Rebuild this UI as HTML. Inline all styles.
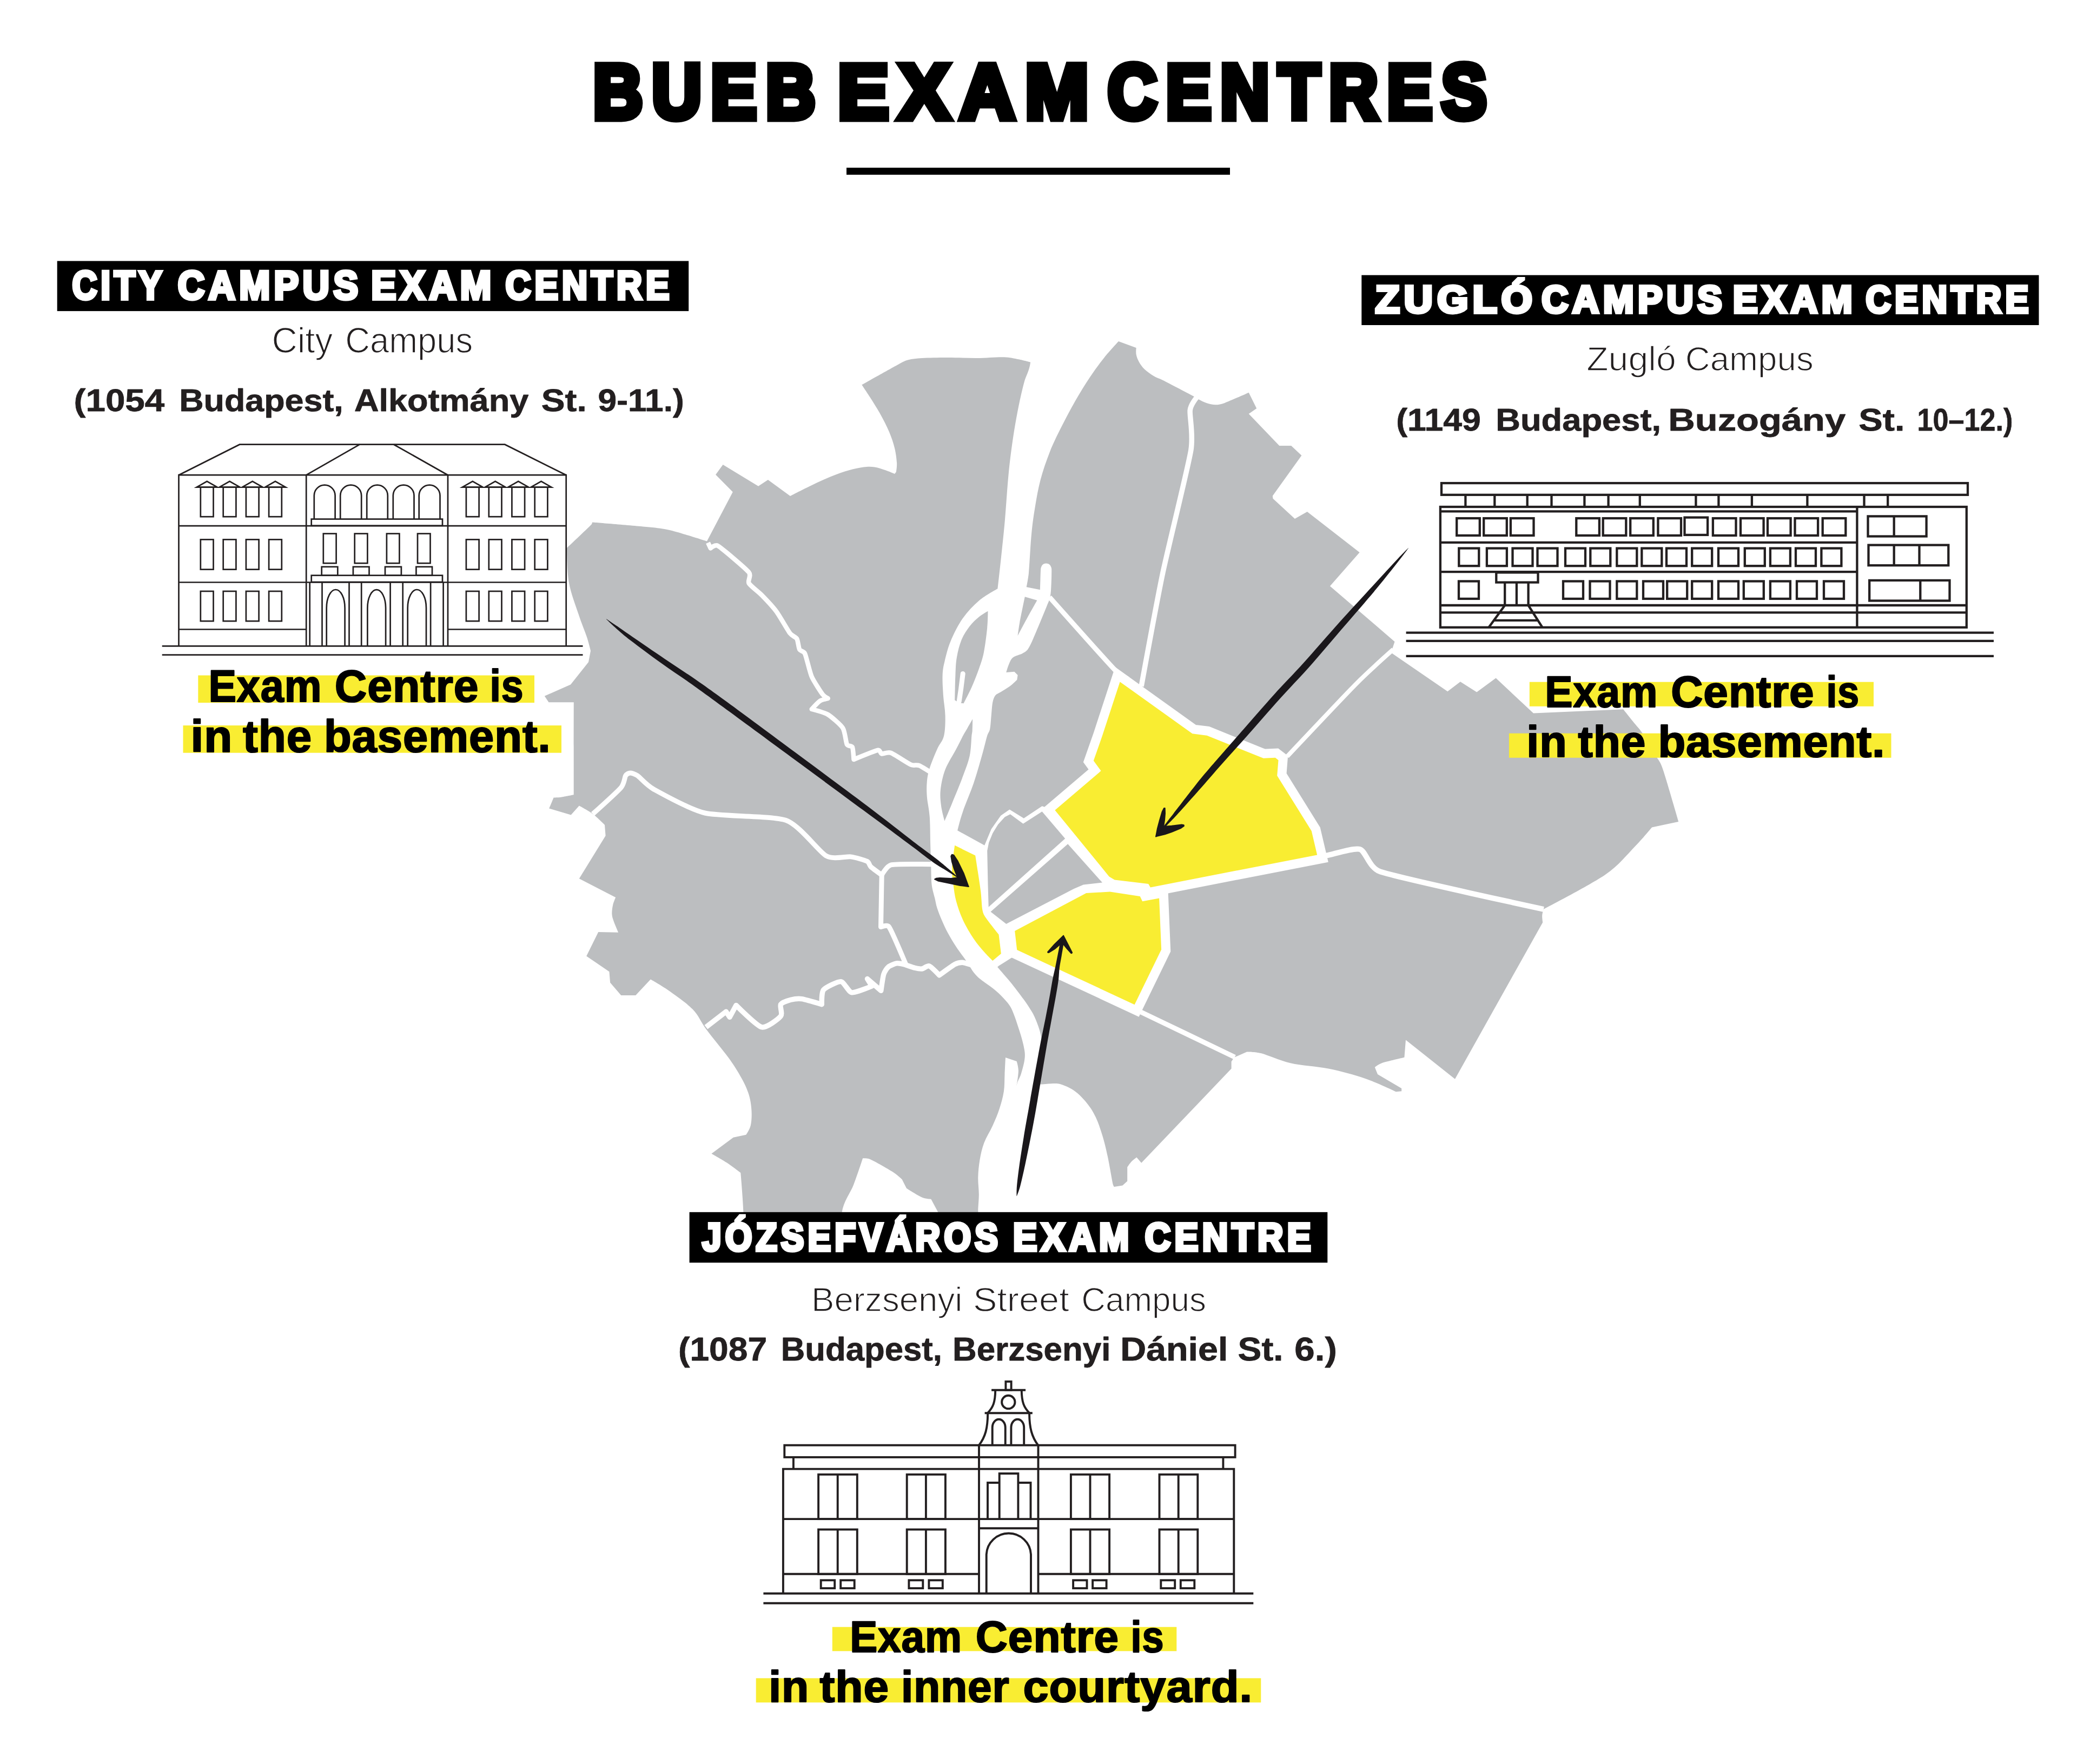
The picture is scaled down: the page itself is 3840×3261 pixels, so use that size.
<!DOCTYPE html>
<html lang="en"><head><meta charset="utf-8"><title>BUEB Exam Centres</title>
<style>html,body{margin:0;padding:0;background:#fff}svg{display:block}text{font-family:"Liberation Sans",sans-serif;white-space:pre}</style></head><body>
<svg width="3840" height="3261" viewBox="0 0 3840 3261">
<rect width="3840" height="3261" fill="#fff"/>
<g id="map">
<path d="M1905.1 669.7L2068 631L2100.7 643.1C2100.7 643.1 2099.8 651.3 2100.7 655.6C2101.5 659.9 2103.3 664.6 2105.8 669.1C2108.3 673.6 2111.4 678.3 2115.9 682.6C2120.4 686.9 2127.2 691.6 2132.8 695C2138.4 698.4 2143.0 699.4 2149.6 702.8C2162.4 709.3 2198.4 728.1 2209.6 734.1C2212.7 735.8 2213.9 737.2 2217 738.8C2220.5 740.6 2225.4 743.3 2230.5 744.9C2235.6 746.5 2241.7 748.3 2247.3 748.3C2252.9 748.3 2257.7 747.3 2264.2 744.9C2274.4 741.1 2308.7 725.7 2308.7 725.7L2323.2 755L2308.7 765.1L2365.3 824.1L2387.2 824.1L2406.4 842L2352.8 916.8L2353.5 921.8L2393.9 958.9L2416.8 946.1L2513.6 1021.2L2458.9 1083.4L2578.5 1186.2L2571.8 1206.4L2676.3 1278.2L2699.9 1260.3L2730.2 1279.5L2765.6 1253.6L2835 1318.5L3001.1 1311.2C3001.1 1311.2 3016.8 1330.8 3022.8 1338.3C3028.6 1345.5 3032.2 1348.6 3037.2 1356.4C3042.6 1364.8 3049.9 1379.9 3055.3 1388.9C3060.7 1397.8 3065.6 1402.1 3069.7 1410.6C3073.8 1419.1 3076.3 1428.1 3080 1440C3085.6 1458.1 3103.4 1519.0 3103.4 1519L3054 1529.4C3054.0 1529.4 3036.0 1551.3 3022.8 1564.8C3008.5 1579.4 2993.1 1599.7 2968.2 1616.8C2940.0 1636.1 2853.8 1680.8 2853.8 1680.8C2853.8 1680.8 2851.5 1688.1 2851.2 1692.2C2850.9 1696.3 2852.2 1705.2 2852.2 1705.2L2690 1994.8L2599 1922.6L2596.4 1954.8C2596.4 1954.8 2563.9 1962.2 2554.8 1965.2C2549.0 1967.1 2541.8 1973.0 2541.8 1973L2547 1986L2591.2 2012L2591.2 2017.2L2580.8 2018.2C2580.8 2018.2 2544.4 2000.9 2523.6 1993.8C2502.8 1986.7 2479.0 1980.4 2456 1975.6C2433.0 1970.8 2406.6 1970.0 2385.8 1965.2C2365.0 1960.4 2344.6 1950.5 2331.2 1947C2321.1 1944.4 2305.2 1944.4 2305.2 1944.4L2281.8 1954.8L2276.6 1962.6L2276.6 1975.6L2110.2 2149.8L2101.4 2139.4C2101.4 2139.4 2094.9 2144.2 2092 2147.2C2089.1 2150.2 2084.2 2157.6 2084.2 2157.6L2084.2 2183.6L2075.4 2191.4L2059.8 2194C2059.8 2194.0 2058.0 2191.1 2057.5 2188.9C2055.5 2179.6 2051.1 2152.9 2047.9 2138.1C2044.7 2123.3 2042.1 2112.2 2038.4 2100C2034.7 2087.8 2030.5 2075.2 2025.7 2065.1C2020.9 2055.0 2016.2 2047.6 2009.8 2039.7C2003.4 2031.8 1995.5 2023.3 1987.6 2017.5C1979.7 2011.7 1969.6 2007.2 1962.2 2004.8C1954.9 2002.5 1950.1 2003.2 1943.2 2003.2C1936.3 2003.2 1929.9 2004.4 1921 2004.8C1910.4 2005.3 1879.7 2006.3 1879.7 2006.3C1879.7 2006.3 1882.9 1986.8 1882.9 1979.4C1882.9 1972.3 1879.7 1961.9 1879.7 1961.9L1859 1954.9C1859.0 1954.9 1858.0 1975.3 1857.5 1985.7C1857.0 1996.1 1857.5 2006.9 1855.9 2017.5C1854.3 2028.1 1851.4 2038.6 1847.9 2049.2C1844.5 2059.8 1840.0 2070.4 1835.2 2081C1830.5 2091.6 1823.4 2102.1 1819.4 2112.7C1815.4 2123.3 1813.2 2133.8 1811.4 2144.4C1809.6 2155.0 1808.6 2165.6 1808.3 2176.2C1808.0 2186.8 1809.8 2197.8 1809.8 2207.9C1809.8 2218.0 1808.4 2230.3 1808.3 2236.5C1808.2 2239.9 1809.0 2245.0 1809 2245L1735 2242.3L1721.5 2217C1721.5 2217.0 1710.9 2216.4 1704.6 2213.6C1697.0 2210.2 1676.0 2196.8 1676 2196.8L1667.5 2179.9C1667.5 2179.9 1658.0 2171.0 1650.7 2166.4C1640.9 2160.2 1617.9 2147.1 1608.6 2142.9C1603.6 2140.7 1595.1 2141.2 1595.1 2141.2C1595.1 2141.2 1584.7 2173.2 1578.2 2190C1571.7 2206.8 1559.8 2219.9 1556.3 2242.3C1552.6 2266.1 1556.0 2333.0 1556 2333L1376 2333C1376.0 2333.0 1375.5 2268.1 1374.4 2240.6C1373.3 2213.1 1369.3 2168.1 1369.3 2168.1C1369.3 2168.1 1353.0 2155.5 1344 2149.6C1335.0 2143.7 1315.4 2132.8 1315.4 2132.8L1355.8 2102.7L1379.4 2097.7C1379.4 2097.7 1386.1 2088.1 1387.8 2080.8C1389.5 2073.5 1390.0 2063.4 1389.5 2053.8C1389.0 2044.3 1387.6 2033.6 1384.5 2023.5C1381.4 2013.4 1377.2 2004.4 1371 1993.2C1364.8 1982.0 1357.7 1970.4 1347.4 1956.1C1336.5 1940.9 1316.5 1917.3 1305.3 1902.2C1294.8 1888.0 1292.1 1877.5 1280.4 1865.6C1268.7 1853.6 1248.2 1839.7 1235.3 1830.5C1222.9 1821.7 1202.8 1810.5 1202.8 1810.5L1175.2 1840L1148.3 1840L1128.1 1816.4L1126.4 1796.2L1084.2 1767.5L1106.2 1723.1L1143.2 1723.7C1143.2 1723.7 1136.8 1709.1 1134.8 1703.5C1133.0 1698.2 1131.7 1695.0 1131.4 1690C1131.1 1685.0 1132.0 1678.4 1133.1 1673.2C1134.2 1668.0 1138.2 1659.0 1138.2 1659L1070.8 1624.3L1119.6 1545.1L1118 1524.9C1118.0 1524.9 1103.9 1510.6 1096 1504.7C1088.1 1498.8 1070.8 1489.5 1070.8 1489.5L1055.6 1506.4L1015.2 1494.6L1023.6 1474.4C1023.6 1474.4 1031.7 1474.4 1037.1 1473.7C1043.3 1472.8 1060.7 1469.3 1060.7 1469.3C1060.7 1469.3 1060.7 1408.5 1060.7 1380C1060.7 1351.5 1060.8 1298.2 1060.8 1298.2L1014.5 1298.2L1006.8 1286.7L1055 1265.5L1088 1224L1092 1203C1092.0 1203.0 1088.5 1188.4 1085.4 1179C1081.7 1167.8 1075.2 1152.7 1069.6 1135.6C1064.0 1118.5 1055.4 1096.8 1051.8 1076.4C1048.2 1056.0 1047.9 1013.2 1047.9 1013.2C1047.9 1013.2 1085.4 977.8 1093.3 969.8C1094.6 968.5 1095.1 965.5 1095.1 965.5C1095.1 965.5 1176.1 972.0 1200.3 974.5C1216.4 976.2 1224.6 976.7 1240.3 980.5C1258.1 984.9 1307.0 1000.6 1307 1000.6L1354.8 909.6L1323.1 877.6L1336.6 859L1402 898.8L1419.9 887L1461 917C1461.0 917.0 1483.2 905.5 1495.7 899.5C1508.2 893.5 1523.8 886.0 1536.1 881C1548.4 876.0 1559.7 872.1 1569.8 869.2C1579.9 866.3 1588.9 864.4 1596.8 863.4C1604.7 862.4 1610.3 862.4 1617 863.4C1623.7 864.4 1631.0 867.1 1637.2 869.2C1643.4 871.3 1654.1 875.9 1654.1 875.9L1656.8 872.5C1656.8 872.5 1658.5 862.4 1658.1 855.7C1657.6 848.4 1656.4 838.2 1654.1 828.7C1651.8 819.2 1648.5 809.1 1644 798.4C1639.5 787.7 1633.0 775.4 1627.1 764.7C1621.2 754.0 1614.2 743.3 1608.6 734.4C1603.0 725.5 1593.4 711.4 1593.4 711.4C1593.4 711.4 1646.5 681.4 1660.8 673.7C1668.0 669.9 1672.0 667.3 1679.3 665.3C1686.6 663.3 1694.4 662.5 1704.6 661.9C1716.7 661.2 1734.9 660.9 1751.8 660.9C1768.7 660.9 1788.3 662.0 1805.7 661.9C1823.1 661.8 1843.4 659.8 1856.3 660.2C1867.2 660.5 1875.1 662.7 1883.2 664.3C1891.3 665.9 1905.1 669.7 1905.1 669.7Z" fill="#bcbec0"/>
<path d="M1905.1 610C1905.1 610.0 1907.1 653.5 1905.1 669.7C1903.2 685.4 1896.9 693.8 1893.3 707.4C1889.7 721.0 1886.6 734.4 1883.2 751.2C1879.8 768.1 1876.2 787.7 1873.1 808.5C1870.0 829.3 1867.2 850.6 1864.7 875.9C1862.2 901.2 1860.2 934.9 1858 960.2C1855.8 985.5 1853.5 1006.2 1851.2 1027.5C1849.0 1048.8 1844.5 1088.2 1844.5 1088.2C1844.5 1088.2 1820.9 1101.1 1810.2 1110.2C1799.5 1119.3 1789.0 1130.3 1780.2 1142.8C1771.4 1155.3 1763.2 1171.9 1757.6 1185.3C1752.0 1198.7 1748.9 1212.5 1746.4 1222.9C1744.0 1232.7 1743.0 1237.8 1742.6 1247.9C1742.2 1258.3 1743.1 1273.0 1743.9 1285.5C1744.7 1298.0 1747.4 1310.5 1747.6 1323C1747.8 1335.5 1747.6 1350.3 1745.1 1360.6C1742.6 1370.9 1737.0 1375.1 1732.6 1385C1728.2 1394.9 1721.9 1410.1 1718.8 1420.1C1715.8 1429.8 1714.6 1436.3 1713.8 1445.1C1713.0 1453.9 1713.0 1461.8 1713.8 1472.7C1714.6 1483.6 1717.8 1495.6 1718.8 1510.2C1719.8 1524.8 1719.7 1545.3 1720.1 1560.3C1720.5 1575.3 1720.9 1587.8 1721.3 1600.3C1721.7 1612.8 1721.4 1625.5 1722.6 1635.4C1723.8 1645.4 1726.5 1652.8 1728.2 1660C1729.9 1667.2 1730.4 1671.9 1732.6 1678.8C1734.8 1685.7 1738.0 1693.6 1741.3 1701.3C1744.6 1709.0 1748.2 1717.0 1752.6 1725.1C1757.0 1733.2 1761.8 1741.2 1767.6 1750.1C1773.4 1759.0 1782.3 1770.4 1787.7 1778.3C1792.9 1785.9 1796.0 1792.4 1800.2 1797.7C1804.4 1803.0 1807.2 1805.7 1812.7 1810.2C1818.8 1815.2 1829.4 1821.9 1836.5 1827.7C1843.6 1833.5 1849.7 1839.0 1855.3 1845.3C1860.9 1851.6 1866.0 1856.3 1870.3 1865.3C1875.4 1876.0 1882.0 1896.8 1886 1909.5C1889.9 1922.0 1892.7 1932.8 1894 1941.3C1895.2 1948.8 1895.1 1952.9 1894 1960.3C1892.9 1967.7 1890.0 1978.0 1887.6 1985.7C1885.2 1993.4 1881.0 1998.1 1879.7 2006.3C1878.4 2014.5 1879.7 2035.0 1879.7 2035L1921 2035C1921.0 2035.0 1920.2 2015.7 1921 2004.8C1921.8 1993.9 1924.7 1981.4 1925.7 1969.8C1926.8 1958.2 1927.8 1945.5 1927.3 1934.9C1926.8 1924.3 1924.9 1915.5 1922.5 1906.3C1920.1 1897.1 1915.7 1886.6 1912.8 1880C1910.3 1874.3 1908.6 1871.7 1905.3 1866.5C1902.0 1861.1 1898.1 1855.1 1892.8 1847.8C1886.5 1839.2 1875.7 1825.0 1867.8 1815.2C1859.9 1805.4 1850.6 1795.4 1845.2 1788.9C1841.1 1783.9 1839.5 1780.8 1835.3 1776.1C1831.1 1771.4 1825.9 1767.1 1820.2 1760.6C1814.4 1753.8 1806.9 1745.5 1800.2 1735.5C1793.5 1725.5 1785.6 1712.2 1780.2 1700.5C1774.8 1688.8 1770.6 1676.2 1767.7 1665.4C1764.8 1654.6 1763.9 1645.4 1762.6 1635.4C1761.3 1625.4 1759.7 1617.4 1760.1 1605.4C1760.5 1593.3 1763.5 1574.5 1765.2 1562.8C1766.8 1551.7 1767.7 1545.7 1770.2 1535.3C1772.7 1524.9 1775.5 1514.0 1780.2 1500.2C1785.2 1485.6 1794.4 1464.7 1800.2 1447.6C1806.0 1430.5 1811.0 1412.2 1815.2 1397.6C1819.4 1383.0 1822.7 1368.2 1825.2 1360C1826.7 1355.1 1829.2 1353.2 1830.2 1348.1C1831.5 1341.9 1831.9 1331.3 1832.7 1323C1833.5 1314.7 1834.0 1304.2 1835.3 1298C1836.4 1292.7 1837.8 1288.6 1840.3 1285.5C1842.8 1282.4 1846.3 1281.7 1850.3 1279.2C1854.9 1276.3 1862.8 1271.7 1867.8 1267.9C1872.8 1264.2 1880.3 1256.7 1880.3 1256.7L1881.6 1247.9L1875.3 1241.7L1860.3 1242.9C1860.3 1242.9 1863.2 1232.5 1865.3 1227.9C1867.4 1223.3 1868.6 1218.7 1872.8 1215.4C1877.0 1212.1 1885.7 1210.4 1890.3 1207.9C1894.7 1205.5 1897.3 1204.4 1900.3 1200.3C1903.7 1195.7 1906.8 1188.5 1910.4 1180.3C1916.2 1167.0 1930.2 1133.1 1935.4 1120.2C1938.2 1113.3 1940.3 1109.8 1941.7 1102.7C1943.1 1095.6 1943.3 1086.0 1943.7 1077.7C1944.1 1069.4 1944.3 1058.0 1944.2 1053.1C1944.2 1051.1 1943.8 1049.6 1943.2 1048.1C1942.6 1046.6 1941.7 1045.1 1940.7 1044.1C1939.7 1043.1 1938.5 1042.5 1937.4 1042.1C1936.3 1041.6 1935.2 1041.4 1934.1 1041.4C1933.0 1041.4 1932.0 1041.6 1930.9 1042.1C1929.8 1042.5 1928.6 1043.1 1927.6 1044.1C1926.6 1045.1 1925.7 1046.6 1925.1 1048.1C1924.5 1049.6 1924.2 1051.1 1924.1 1053.1C1923.8 1057.2 1923.6 1066.5 1923.4 1072.7C1923.2 1078.9 1922.9 1090.2 1922.9 1090.2L1897.8 1085.2C1897.8 1085.2 1900.9 1070.2 1901.9 1060C1903.4 1043.7 1905.0 1008.0 1907 987.5C1908.9 967.2 1910.9 953.8 1913.7 937C1916.5 920.2 1919.3 903.4 1923.8 886.5C1928.3 869.6 1934.5 851.6 1940.7 835.9C1946.9 820.2 1953.1 807.8 1960.9 792.1C1968.8 776.4 1978.8 757.2 1987.8 741.5C1996.8 725.8 2005.8 711.2 2014.8 697.7C2023.8 684.2 2032.9 671.8 2041.8 660.7C2050.7 649.6 2068.0 631.0 2068 631L2068 610L1905.1 610Z" fill="#fff"/>
<path d="M1826.5 1129.7C1826.5 1129.7 1815.8 1135.6 1810.2 1140.3C1804.6 1145.0 1798.1 1150.7 1792.7 1157.8C1787.3 1164.9 1781.7 1173.2 1777.7 1182.8C1773.7 1192.4 1770.8 1204.6 1768.9 1215.4C1767.0 1226.2 1767.0 1234.9 1766.4 1247.9C1765.8 1261.0 1765.2 1294.2 1765.2 1294.2C1765.2 1294.2 1770.0 1297.5 1772.7 1298.5C1775.4 1299.5 1781.4 1300.5 1781.4 1300.5C1781.4 1300.5 1791.6 1281.2 1796.4 1270.4C1801.2 1259.6 1806.4 1246.2 1810.2 1235.4C1814.0 1224.6 1816.6 1217.7 1819 1205.4C1821.5 1192.9 1824.0 1172.9 1825.2 1160.3C1826.4 1148.1 1826.5 1129.7 1826.5 1129.7Z" fill="#bcbec0"/>
<polyline points="1780.2,1245.4 1776.7,1273 1773.2,1296.7" fill="none" stroke="#fff" stroke-width="9" stroke-linecap="round"/>
<path d="M1894.8 1103.2L1917.4 1109.7C1917.4 1109.7 1906.3 1129.4 1900.3 1140.3C1894.3 1151.2 1881.6 1175.3 1881.6 1175.3C1881.6 1175.3 1883.5 1160.2 1885.3 1150.3C1887.5 1138.3 1894.8 1103.2 1894.8 1103.2Z" fill="#bcbec0"/>
<path d="M1798.2 1329.3C1798.2 1329.3 1791.9 1340.4 1788.9 1345.6C1785.9 1350.8 1783.5 1354.5 1780.2 1360.6C1776.7 1367.2 1772.8 1375.3 1767.7 1385C1762.3 1395.3 1752.4 1410.1 1747.6 1422.6C1742.8 1435.1 1740.2 1448.8 1738.9 1460.1C1737.7 1471.4 1738.8 1480.6 1740.1 1490.2C1741.3 1499.8 1746.4 1517.7 1746.4 1517.7C1746.4 1517.7 1754.8 1498.3 1760.1 1485.2C1765.7 1471.4 1774.8 1449.7 1780.2 1435.1C1785.6 1420.5 1790.0 1410.1 1792.7 1397.6C1795.4 1385.1 1795.6 1367.8 1796.4 1360C1796.8 1356.2 1797.5 1354.4 1797.7 1350.6C1798.0 1345.5 1798.2 1329.3 1798.2 1329.3Z" fill="#bcbec0"/>
<path d="M1309 1003.3L1313.7 1013.4C1313.7 1013.4 1322.4 1006.0 1327.2 1009C1335.1 1013.9 1378.1 1050.2 1384.5 1057.9C1389.7 1064.1 1381.9 1073.4 1384.5 1078.1C1387.1 1082.8 1402.4 1094.2 1408.1 1100C1413.8 1105.8 1429.8 1122.8 1435.6 1130.7C1441.4 1138.6 1456.4 1165.2 1460.6 1170.8C1464.5 1175.9 1471.2 1177.5 1473.2 1180.8C1475.2 1184.1 1476.5 1197.7 1478.2 1200.8C1479.9 1203.9 1486.1 1203.8 1488.2 1208.4C1490.7 1214.0 1497.1 1242.6 1500.7 1250.9C1504.3 1259.2 1517.4 1279.0 1520.7 1283.5C1523.7 1287.5 1530.7 1291.0 1530.7 1291C1530.7 1291.0 1519.0 1293.8 1515.7 1296C1512.4 1298.2 1500.7 1311.0 1500.7 1311C1500.7 1311.0 1524.3 1317.1 1530.7 1321C1537.1 1324.9 1554.4 1339.9 1558.3 1346C1562.2 1352.1 1563.9 1372.2 1565.8 1376.1C1567.7 1380.0 1574.4 1378.0 1575.8 1381.1C1577.2 1384.2 1578.5 1404.0 1578.5 1404C1578.5 1404.0 1617.8 1387.9 1623.5 1386.7C1627.2 1385.9 1627.6 1392.9 1630.2 1393.5C1632.8 1394.1 1641.0 1389.6 1647 1391.8C1653.0 1394.0 1678.2 1411.1 1684.1 1413.7C1689.9 1416.3 1694.2 1412.8 1699.9 1415.4C1705.6 1418.0 1735.0 1437.0 1735 1437" fill="none" stroke="#fff" stroke-width="8.5" stroke-linejoin="round"/>
<path d="M1096 1504.7C1096.0 1504.7 1141.6 1463.7 1148.3 1455.8C1154.4 1448.7 1154.8 1436.9 1156.7 1433.9C1158.6 1430.9 1162.7 1428.9 1165.1 1428.9C1167.5 1428.9 1173.9 1430.6 1178.6 1433.9C1183.5 1437.3 1195.1 1451.5 1208.9 1459.2C1222.8 1466.9 1276.1 1496.6 1303.3 1503C1330.5 1509.4 1428.4 1507.7 1453.3 1516.5C1478.2 1525.3 1514.1 1574.7 1527.4 1582.2C1540.7 1589.7 1564.5 1582.8 1572.9 1583.9C1581.3 1585.0 1599.1 1590.2 1603.2 1592.3C1607.3 1594.4 1607.0 1599.6 1610 1602.4C1613.0 1605.2 1630.2 1617.6 1630.2 1617.6C1630.2 1617.6 1639.3 1601.2 1647 1599C1654.7 1596.8 1690.7 1597.5 1699.9 1597.4C1709.1 1597.3 1730.0 1597.7 1730 1597.7" fill="none" stroke="#fff" stroke-width="9" stroke-linejoin="round"/>
<path d="M1630.2 1617.6L1628.5 1713.6C1628.5 1713.6 1640.3 1708.6 1643.7 1713.6C1648.8 1721.1 1674.0 1781.0 1674 1781L1670.9 1782.6" fill="none" stroke="#fff" stroke-width="9" stroke-linejoin="round"/>
<path d="M1305.3 1898.8L1342.3 1870.2L1349.1 1880.3L1360.9 1858.4C1360.9 1858.4 1398.9 1896.6 1408.1 1898.8C1417.3 1901.0 1439.5 1883.3 1443.4 1878.6C1447.3 1873.9 1441.3 1860.1 1443.4 1856.7C1445.5 1853.3 1457.7 1849.4 1462 1848.3C1466.3 1847.2 1475.8 1845.7 1482.2 1846.6C1488.6 1847.5 1519.3 1856.7 1519.3 1856.7C1519.3 1856.7 1518.7 1834.4 1522.6 1829.7C1526.5 1825.0 1548.9 1814.0 1554.7 1814.6C1560.5 1815.2 1568.5 1833.9 1574.9 1834.8C1581.3 1835.7 1611.9 1823.0 1611.9 1823L1603.5 1809.5L1628.8 1831.4C1628.8 1831.4 1632.3 1806.0 1633.8 1801.1C1635.3 1796.2 1639.7 1789.8 1642.3 1787.6C1644.9 1785.4 1654.2 1781.5 1657.4 1780.9C1660.6 1780.3 1667.2 1781.7 1670.9 1782.6C1674.6 1783.5 1687.4 1788.4 1691.1 1789.3C1694.8 1790.2 1701.6 1791.4 1704.6 1791C1707.6 1790.6 1714.5 1784.6 1718.1 1785.9C1721.7 1787.2 1736.6 1802.8 1736.6 1802.8C1736.6 1802.8 1760.6 1785.2 1765.3 1782.6C1770.0 1780.0 1775.8 1779.2 1778.8 1779.2C1781.8 1779.2 1788.8 1781.5 1792.2 1782.6C1795.6 1783.7 1809.1 1789.3 1809.1 1789.3" fill="none" stroke="#fff" stroke-width="9.4" stroke-linejoin="round"/>
<path d="M2213 734.1C2213.0 734.1 2201.4 747.5 2200.2 758.4C2199.0 769.3 2206.7 803.3 2201.8 832.5C2196.2 866.0 2159.8 1011.5 2149.6 1060C2139.4 1108.5 2110.1 1268.7 2110.1 1268.7" fill="none" stroke="#fff" stroke-width="9.5" stroke-linejoin="round"/>
<path d="M2575.8 1200.6C2575.8 1200.6 2529.6 1241.7 2507.8 1263.7C2486.0 1285.7 2379.7 1398.5 2379.7 1398.5" fill="none" stroke="#fff" stroke-width="8" stroke-linejoin="round"/>
<path d="M1940.4 1104C1940.4 1104.0 2044.5 1221.1 2060.6 1237.9C2069.0 1246.7 2085.6 1255.4 2085.6 1255.4" fill="none" stroke="#fff" stroke-width="9" stroke-linejoin="round"/>
<path d="M2404 1590.8C2404.0 1590.8 2441.2 1583.7 2453.4 1581.4C2465.6 1579.1 2503.2 1566.6 2514.2 1570C2525.2 1573.4 2530.8 1604.6 2552.2 1611.6C2589.9 1623.9 2853.8 1680.8 2853.8 1680.8" fill="none" stroke="#fff" stroke-width="10" stroke-linejoin="round"/>
<path d="M2095.9 1865C2095.9 1865.0 2105.1 1868.8 2111.1 1871.7C2131.9 1881.6 2282.9 1954.3 2282.9 1954.3" fill="none" stroke="#fff" stroke-width="9" stroke-linejoin="round"/>
<polygon points="1770.2,1535.3 1820.2,1562.8 1832.7,1532.7 1850.3,1507.7 1866.5,1496.4 1892.8,1512.7 1926.6,1490.2 1937.9,1493.9 1973,1510.2 2060.6,1610.4 2060.6,1660.4 1910.4,1735.5 1885.3,1760.6 1870.3,1770.6 1846.5,1785.6 1835.3,1795.6 1800.2,1760.6 1760.1,1660.4 1755.1,1560.3" fill="#fff"/>
<polygon points="1876.2,1721.1 2008.3,1651 2052.1,1648.6 2107.7,1657.1 2112.1,1666.2 2143.1,1660.4 2147.1,1755.5 2097.6,1857.2 1880.2,1756.1" fill="none" stroke="#fff" stroke-width="34" stroke-linejoin="miter"/>
<polygon points="2070.6,1260.4 2204.5,1356.3 2231.4,1359.7 2335.9,1401.8 2357.8,1400.8 2363.5,1405.2 2361.2,1433.9 2424.8,1536.2 2435.2,1580.4 2126.9,1640.4 2123.2,1634.1 2060.6,1626.6 2050.6,1620.4 1950.4,1497.7 2035.5,1425.1 2021.8,1406.3 2038,1360" fill="none" stroke="#fff" stroke-width="34" stroke-linejoin="miter"/>
<polygon points="1825.2,1572.8 1828.2,1557.8 1835.3,1540.3 1845.3,1524 1857.8,1510.2 1867.8,1505.2 1891.6,1522.7 1926.6,1500.2 1969.2,1550.3 1827.7,1676.7 1826.5,1635.4" fill="#bcbec0"/>
<polygon points="1831.5,1685.5 1974.2,1560.3 2038,1631.6 2003,1635.4 1985.5,1642.9 1860.3,1708" fill="#bcbec0"/>
<path d="M1765.2 1562.8L1803.2 1581.6C1803.2 1581.6 1806.0 1599.4 1807.7 1610.4C1809.4 1621.5 1811.7 1635.8 1813.2 1647.9C1814.7 1660.0 1814.9 1674.9 1816.5 1683C1817.6 1688.9 1819.3 1691.7 1822.7 1696.7C1827.7 1704.1 1846.5 1727.5 1846.5 1727.5L1850.8 1763.1L1835.3 1776.1C1835.3 1776.1 1825.9 1767.1 1820.2 1760.6C1814.4 1753.8 1806.9 1745.5 1800.2 1735.5C1793.5 1725.5 1785.6 1712.2 1780.2 1700.5C1774.8 1688.8 1770.6 1676.2 1767.7 1665.4C1764.8 1654.6 1763.9 1645.4 1762.6 1635.4C1761.3 1625.4 1759.7 1617.4 1760.1 1605.4C1760.5 1593.3 1765.2 1562.8 1765.2 1562.8Z" fill="#f9ed32"/>
<polygon points="1876.2,1721.1 2008.3,1651 2052.1,1648.6 2107.7,1657.1 2112.1,1666.2 2143.1,1660.4 2147.1,1755.5 2097.6,1857.2 1880.2,1756.1" fill="#f9ed32"/>
<polygon points="2070.6,1260.4 2204.5,1356.3 2231.4,1359.7 2335.9,1401.8 2357.8,1400.8 2363.5,1405.2 2361.2,1433.9 2424.8,1536.2 2435.2,1580.4 2126.9,1640.4 2123.2,1634.1 2060.6,1626.6 2050.6,1620.4 1950.4,1497.7 2035.5,1425.1 2021.8,1406.3 2038,1360" fill="#f9ed32"/>
</g>
<g fill="#1a171b">
<path d="M1120.9 1144.6C1120.9 1144.6 1131.3 1154.8 1138.6 1161.2C1146.0 1167.7 1154.4 1175.2 1165.6 1183.8C1179.6 1194.6 1203.6 1212.4 1222.7 1226.1C1241.8 1239.8 1260.9 1252.2 1280.1 1265.8C1299.2 1279.4 1314.7 1290.8 1337.6 1307.6C1368.1 1330.0 1420.1 1368.2 1463.3 1400C1506.5 1431.8 1559.4 1470.6 1596.8 1498.2C1633.1 1525.0 1665.7 1549.3 1687.4 1565.5C1703.2 1577.3 1716.3 1587.8 1726.8 1595.2C1736.0 1601.6 1743.1 1605.2 1750.6 1609.9C1758.1 1614.6 1771.8 1623.3 1771.8 1623.3L1772.2 1622.7C1772.2 1622.7 1760.1 1611.8 1753.4 1606.1C1746.7 1600.3 1740.8 1595.1 1732 1588.2C1721.9 1580.3 1708.2 1570.7 1692.6 1558.7C1671.1 1542.3 1639.2 1517.0 1603.2 1489.8C1566.1 1461.8 1513.2 1422.8 1470.1 1390.8C1427.0 1358.8 1375.2 1320.4 1344.6 1298C1321.6 1281.2 1305.8 1270.0 1286.5 1256.6C1267.2 1243.2 1247.9 1230.8 1228.5 1217.7C1209.1 1204.6 1184.5 1187.8 1170 1177.8C1158.5 1169.9 1149.6 1163.4 1141.4 1157.8C1133.3 1152.3 1121.1 1144.2 1121.1 1144.2L1120.9 1144.6Z"/>
<polygon points="1790.6,1638.9 1781.8,1614.8 1770.2,1591 1763.4,1580.8 1760,1579.8 1758.3,1582.8 1760,1593 1764.1,1606.6 1770.2,1621.6 1778.4,1630.4" stroke="#1a171b" stroke-width="2" stroke-linejoin="round"/>
<polygon points="1790.6,1638.9 1775,1636.9 1751.2,1632.1 1734.2,1628.4 1728.1,1625.3 1730.8,1623.8 1737.6,1623 1758,1624 1770.2,1622.6 1780.4,1630.4" stroke="#1a171b" stroke-width="2" stroke-linejoin="round"/>
<path d="M2603.7 1012.9C2603.7 1012.9 2591.4 1025.2 2583.5 1033.7C2572.7 1045.2 2556.6 1062.8 2538.8 1082.2C2520.8 1101.8 2497.1 1127.3 2475.6 1151.2C2454.1 1175.1 2429.7 1203.7 2409.8 1225.7C2389.9 1247.7 2373.4 1264.1 2356 1283.4C2338.6 1302.7 2325.2 1318.3 2305.1 1341.3C2285.0 1364.2 2251.3 1402.7 2235.5 1421.1C2225.2 1433.1 2220.1 1439.1 2210.3 1451.5C2199.3 1465.3 2179.5 1491.2 2169.6 1503.9C2162.1 1513.5 2150.9 1528.0 2150.9 1528L2153.1 1530C2153.1 1530.0 2166.1 1517.1 2174.4 1508.1C2185.3 1496.2 2207.0 1471.7 2218.7 1458.5C2229.1 1446.7 2234.1 1440.7 2244.5 1428.9C2260.5 1410.8 2294.7 1372.7 2314.9 1349.9C2335.1 1327.1 2348.4 1311.5 2365.8 1292.2C2383.2 1272.9 2399.6 1256.5 2419.4 1234.3C2439.2 1212.1 2463.4 1183.2 2484.4 1158.8C2505.4 1134.4 2528.2 1108.2 2545.2 1087.8C2562.1 1067.5 2576.7 1048.8 2586.5 1036.3C2593.7 1027.2 2604.1 1013.1 2604.1 1013.1L2603.7 1012.9Z"/>
<polygon points="2137.1,1546.4 2139.9,1531.7 2143.7,1517.4 2148.7,1500.5 2152.1,1494 2153.7,1494 2154,1503.7 2153,1516.1 2151.2,1527.4 2149.9,1534.8" stroke="#1a171b" stroke-width="2" stroke-linejoin="round"/>
<polygon points="2137.1,1546.4 2153.7,1542.3 2166.1,1538 2183.6,1530.8 2188.9,1527 2188.6,1525.2 2184.8,1524.6 2166.1,1526.7 2151.2,1528 2144.9,1534.8" stroke="#1a171b" stroke-width="2" stroke-linejoin="round"/>
<path d="M1879.9 2211.1C1879.9 2211.1 1884.1 2200.7 1886 2193.5C1888.5 2184.0 1891.9 2168.8 1895.1 2153.9C1898.3 2139.0 1901.9 2121.2 1905.3 2104.1C1908.7 2087.0 1911.5 2072.4 1915.2 2051.2C1920.1 2023.5 1929.6 1966.1 1934.5 1937.8C1938.5 1915.1 1941.8 1897.6 1944.8 1881.1C1947.8 1864.6 1950.5 1850.7 1952.5 1839C1954.4 1827.8 1956.0 1819.1 1957 1810.9C1958.0 1802.8 1957.8 1797.3 1958.7 1790.1C1959.6 1782.8 1961.3 1774.8 1962.6 1767.4C1963.9 1760.0 1965.5 1751.1 1966.3 1745.6C1967.0 1741.1 1967.5 1734.4 1967.5 1734.4L1962.5 1733.6C1962.5 1733.6 1960.7 1740.0 1959.7 1744.4C1958.5 1749.8 1956.9 1758.6 1955.4 1766C1953.9 1773.4 1952.4 1781.5 1950.9 1788.7C1949.4 1795.9 1948.0 1801.0 1946.4 1809.1C1944.8 1817.1 1943.5 1825.9 1941.5 1837C1939.4 1848.6 1936.8 1862.5 1933.6 1878.9C1930.4 1895.3 1926.5 1912.9 1922.3 1935.6C1917.0 1963.9 1906.9 2021.1 1902 2048.8C1898.2 2070.0 1895.5 2084.7 1892.7 2101.9C1889.9 2119.1 1887.0 2137.0 1884.9 2152.1C1882.8 2167.2 1880.9 2182.7 1880 2192.5C1879.3 2199.9 1879.5 2211.1 1879.5 2211.1L1879.9 2211.1Z"/>
<polygon points="1966.1,1729.8 1949.7,1745.7 1937.1,1759.9 1937.5,1761 1939.5,1760.7 1949.7,1754.5 1961.3,1744.6 1964.4,1741.7" stroke="#1a171b" stroke-width="2" stroke-linejoin="round"/>
<polygon points="1966.1,1729.8 1973.8,1744.6 1982.1,1761 1981.3,1762.3 1980.3,1762 1972.4,1753.4 1964.4,1743.4" stroke="#1a171b" stroke-width="2" stroke-linejoin="round"/>
</g>
<g fill="none" stroke="#231f20" stroke-width="2.7" stroke-linejoin="miter">
<path d="M299.7 1194.3L1077.5 1194.3"/>
<path d="M299.7 1210.6L1077.5 1210.6"/>
<path d="M330.5 1194.3V878.2H1046.7V1194.3"/>
<path d="M330.5 878.2L443 821.7H933.4L1046.7 878.2"/>
<path d="M566.2 878.2L665 821.7M728 821.7L828 878.2"/>
<path d="M566.2 878.2L566.2 1194.3"/>
<path d="M828 878.2L828 1194.3"/>
<path d="M330.5 972.2L1046.7 972.2"/>
<path d="M330.5 1076.5L1046.7 1076.5"/>
<path d="M330.5 1163.5L566.2 1163.5"/>
<path d="M828 1163.5L1046.7 1163.5"/>
<rect x="370.8" y="900.7" width="23.7" height="54.5"/>
<path d="M363.65 900.7L382.65 889.9L401.65 900.7Z"/>
<rect x="370.8" y="997.4" width="23.7" height="55.3"/>
<rect x="370.8" y="1093" width="23.7" height="55.2"/>
<rect x="412.7" y="900.7" width="23.7" height="54.5"/>
<path d="M405.55 900.7L424.55 889.9L443.55 900.7Z"/>
<rect x="412.7" y="997.4" width="23.7" height="55.3"/>
<rect x="412.7" y="1093" width="23.7" height="55.2"/>
<rect x="454.9" y="900.7" width="23.7" height="54.5"/>
<path d="M447.75 900.7L466.75 889.9L485.75 900.7Z"/>
<rect x="454.9" y="997.4" width="23.7" height="55.3"/>
<rect x="454.9" y="1093" width="23.7" height="55.2"/>
<rect x="497.1" y="900.7" width="23.7" height="54.5"/>
<path d="M489.95 900.7L508.95 889.9L527.95 900.7Z"/>
<rect x="497.1" y="997.4" width="23.7" height="55.3"/>
<rect x="497.1" y="1093" width="23.7" height="55.2"/>
<rect x="861.9" y="900.7" width="23.7" height="54.5"/>
<path d="M854.75 900.7L873.75 889.9L892.75 900.7Z"/>
<rect x="861.9" y="997.4" width="23.7" height="55.3"/>
<rect x="861.9" y="1093" width="23.7" height="55.2"/>
<rect x="903.8" y="900.7" width="23.7" height="54.5"/>
<path d="M896.65 900.7L915.65 889.9L934.65 900.7Z"/>
<rect x="903.8" y="997.4" width="23.7" height="55.3"/>
<rect x="903.8" y="1093" width="23.7" height="55.2"/>
<rect x="946.4" y="900.7" width="23.7" height="54.5"/>
<path d="M939.25 900.7L958.25 889.9L977.25 900.7Z"/>
<rect x="946.4" y="997.4" width="23.7" height="55.3"/>
<rect x="946.4" y="1093" width="23.7" height="55.2"/>
<rect x="988.7" y="900.7" width="23.7" height="54.5"/>
<path d="M981.55 900.7L1000.55 889.9L1019.55 900.7Z"/>
<rect x="988.7" y="997.4" width="23.7" height="55.3"/>
<rect x="988.7" y="1093" width="23.7" height="55.2"/>
<path d="M580.8 959.6V916.1A19.4 19.4 0 0 1 619.6 916.1V959.6"/>
<path d="M629.2 959.6V916.2A19.5 19.5 0 0 1 668.2 916.2V959.6"/>
<path d="M678.2 959.6V916A19.3 19.3 0 0 1 716.8 916V959.6"/>
<path d="M726.8 959.6V916.05A19.35 19.35 0 0 1 765.5 916.05V959.6"/>
<path d="M774.7 959.6V916.1A19.4 19.4 0 0 1 813.5 916.1V959.6"/>
<rect x="575.7" y="959.6" width="242.3" height="12.2"/>
<rect x="597.8" y="986.5" width="23.8" height="54.7"/>
<rect x="655.7" y="986.5" width="23.7" height="54.7"/>
<rect x="714.9" y="986.5" width="23.5" height="54.7"/>
<rect x="772" y="986.5" width="23.5" height="54.7"/>
<rect x="594.7" y="1047.8" width="29.6" height="15.9"/>
<rect x="652.9" y="1047.8" width="29.6" height="15.9"/>
<rect x="712" y="1047.8" width="29.9" height="15.9"/>
<rect x="769.4" y="1047.8" width="29.6" height="15.9"/>
<rect x="575.7" y="1063.7" width="242.3" height="12.3"/>
<path d="M572.7 1076L572.7 1194.3"/>
<path d="M595.5 1076L595.5 1194.3"/>
<path d="M645.5 1076L645.5 1194.3"/>
<path d="M668.2 1076L668.2 1194.3"/>
<path d="M721.6 1076L721.6 1194.3"/>
<path d="M744.7 1076L744.7 1194.3"/>
<path d="M796.1 1076L796.1 1194.3"/>
<path d="M819.6 1076L819.6 1194.3"/>
<path d="M603.7 1194.3V1124A16.95 34 0 0 1 637.6 1124V1194.3"/>
<path d="M679.4 1194.3V1124A16.85 34 0 0 1 713.1 1124V1194.3"/>
<path d="M753.7 1194.3V1124A17.15 34 0 0 1 788 1124V1194.3"/>
</g>
<g fill="none" stroke="#231f20" stroke-width="4.3" stroke-linejoin="miter">
<rect x="2665" y="893.1" width="973" height="21.7"/>
<path d="M2709.4 914.8L2709.4 937"/>
<path d="M2763.3 914.8L2763.3 937"/>
<path d="M2823.7 914.8L2823.7 937"/>
<path d="M2868.5 914.8L2868.5 937"/>
<path d="M2929.4 914.8L2929.4 937"/>
<path d="M2973.6 914.8L2973.6 937"/>
<path d="M3031.8 914.8L3031.8 937"/>
<path d="M3135.4 914.8L3135.4 937"/>
<path d="M3177.4 914.8L3177.4 937"/>
<path d="M3238.9 914.8L3238.9 937"/>
<path d="M3341.4 914.8L3341.4 937"/>
<path d="M3446.5 914.8L3446.5 937"/>
<path d="M3490.2 914.8L3490.2 937"/>
<rect x="2662.9" y="937" width="972.9" height="222.8"/>
<path d="M3433.4 937L3433.4 1159.8"/>
<path d="M2662.9 945.3L3433.4 945.3"/>
<path d="M2662.9 1002.9L3433.4 1002.9"/>
<path d="M2662.9 1057.2L3433.4 1057.2"/>
<path d="M2662.9 1119L3635.8 1119"/>
<path d="M2662.9 1132.3L3635.8 1132.3"/>
<path d="M2599.6 1169.6L3686 1169.6"/>
<path d="M2599.6 1184.9L3686 1184.9"/>
<path d="M2599.6 1212.9L3686 1212.9"/>
<rect x="2693.2" y="958.1" width="42.6" height="31.8"/>
<rect x="2743.2" y="958.1" width="42.6" height="31.8"/>
<rect x="2792.9" y="958.1" width="42.6" height="31.8"/>
<rect x="2914.3" y="958.1" width="42.6" height="31.8"/>
<rect x="2963.7" y="958.1" width="42.6" height="31.8"/>
<rect x="3014.2" y="958.1" width="42.6" height="31.8"/>
<rect x="3065.4" y="958.1" width="42.6" height="31.8"/>
<rect x="3114.5" y="956.6" width="42.6" height="32.3"/>
<rect x="3166.9" y="958.1" width="42.6" height="31.8"/>
<rect x="3218" y="958.1" width="42.6" height="31.8"/>
<rect x="3268" y="958.1" width="42.6" height="31.8"/>
<rect x="3318.5" y="958.1" width="42.6" height="31.8"/>
<rect x="3369.7" y="958.1" width="42.6" height="31.8"/>
<rect x="2697.3" y="1013.6" width="37" height="32.6"/>
<rect x="2748.9" y="1013.6" width="37" height="32.6"/>
<rect x="2796.5" y="1013.6" width="37" height="32.6"/>
<rect x="2842.5" y="1013.6" width="37" height="32.6"/>
<rect x="2894" y="1013.6" width="37" height="32.6"/>
<rect x="2940.3" y="1013.6" width="37" height="32.6"/>
<rect x="2989.3" y="1013.6" width="37" height="32.6"/>
<rect x="3035.3" y="1013.6" width="37" height="32.6"/>
<rect x="3081" y="1013.6" width="37" height="32.6"/>
<rect x="3128.2" y="1013.6" width="37" height="32.6"/>
<rect x="3177" y="1013.6" width="37" height="32.6"/>
<rect x="3225.8" y="1013.6" width="37" height="32.6"/>
<rect x="3272.9" y="1013.6" width="37" height="32.6"/>
<rect x="3320" y="1013.6" width="37" height="32.6"/>
<rect x="3367.4" y="1013.6" width="37" height="32.6"/>
<rect x="2697" y="1074.5" width="37" height="32.4"/>
<rect x="2890" y="1074.5" width="37" height="32.4"/>
<rect x="2939.5" y="1074.5" width="37" height="32.4"/>
<rect x="2989.3" y="1074.5" width="37" height="32.4"/>
<rect x="3038" y="1074.5" width="37" height="32.4"/>
<rect x="3082.2" y="1074.5" width="37" height="32.4"/>
<rect x="3128.2" y="1074.5" width="37" height="32.4"/>
<rect x="3177" y="1074.5" width="37" height="32.4"/>
<rect x="3223.8" y="1074.5" width="37" height="32.4"/>
<rect x="3272.9" y="1074.5" width="37" height="32.4"/>
<rect x="3322" y="1074.5" width="37" height="32.4"/>
<rect x="3372" y="1074.5" width="37" height="32.4"/>
<rect x="2766.3" y="1058.4" width="77.2" height="18.2" fill="#fff"/>
<path d="M2782.2 1076.6L2782.2 1119"/>
<path d="M2803.9 1076.6L2803.9 1119"/>
<path d="M2825.6 1076.6L2825.6 1119"/>
<path d="M2782.2 1119L2752.5 1159.8M2825.6 1119L2851.6 1159.8"/>
<path d="M2772.5 1132.3L2834 1132.3"/>
<path d="M2762 1146.8L2843.3 1146.8"/>
<rect x="3453.5" y="954.4" width="108.1" height="37.1"/>
<path d="M3501.7 954.4L3501.7 991.5"/>
<rect x="3454.5" y="1007.6" width="147.8" height="37.6"/>
<path d="M3501.7 1007.6L3501.7 1045.2"/>
<path d="M3548.5 1007.6L3548.5 1045.2"/>
<rect x="3456.2" y="1072.9" width="148.3" height="37.6"/>
<path d="M3550.3 1072.9L3550.3 1110.5"/>
</g>
<g fill="none" stroke="#231f20" stroke-width="3.9" stroke-linejoin="miter">
<path d="M1411.4 2945.8L2317.3 2945.8"/>
<path d="M1411.4 2963.8L2317.3 2963.8"/>
<path d="M1447.9 2945.8V2715.6H2281.3V2945.8"/>
<rect x="1450.3" y="2671.7" width="833.3" height="22.2"/>
<path d="M1466.9 2693.9L1466.9 2715.6"/>
<path d="M2261.4 2693.9L2261.4 2715.6"/>
<path d="M1810 2671.7L1810 2945.8"/>
<path d="M1919.5 2671.7L1919.5 2945.8"/>
<path d="M1447.9 2808.1L2281.3 2808.1"/>
<path d="M1447.9 2909.8L1810 2909.8"/>
<path d="M1919.5 2909.8L2281.3 2909.8"/>
<path d="M1810 2825.2L1919.5 2825.2"/>
<rect x="1513.1" y="2725.8" width="71.7" height="82.3"/>
<path d="M1548.7 2725.8L1548.7 2808.1"/>
<rect x="1513.1" y="2827.5" width="71.7" height="82.3"/>
<path d="M1548.7 2827.5L1548.7 2909.8"/>
<rect x="1676.7" y="2725.8" width="71.2" height="82.3"/>
<path d="M1711.9 2725.8L1711.9 2808.1"/>
<rect x="1676.7" y="2827.5" width="71.2" height="82.3"/>
<path d="M1711.9 2827.5L1711.9 2909.8"/>
<rect x="1979.9" y="2725.8" width="71.2" height="82.3"/>
<path d="M2015.5 2725.8L2015.5 2808.1"/>
<rect x="1979.9" y="2827.5" width="71.2" height="82.3"/>
<path d="M2015.5 2827.5L2015.5 2909.8"/>
<rect x="2143.5" y="2725.8" width="70.8" height="82.3"/>
<path d="M2178.7 2725.8L2178.7 2808.1"/>
<rect x="2143.5" y="2827.5" width="70.8" height="82.3"/>
<path d="M2178.7 2827.5L2178.7 2909.8"/>
<rect x="1517.7" y="2921.3" width="25.5" height="14.8"/>
<rect x="1554.2" y="2921.3" width="25.5" height="14.8"/>
<rect x="1680.4" y="2921.3" width="25.9" height="14.8"/>
<rect x="1717.4" y="2921.3" width="25.4" height="14.8"/>
<rect x="1984.1" y="2921.3" width="25.4" height="14.8"/>
<rect x="2020.1" y="2921.3" width="25.5" height="14.8"/>
<rect x="2146.3" y="2921.3" width="25.9" height="14.8"/>
<rect x="2182.8" y="2921.3" width="25.5" height="14.8"/>
<path d="M1826 2808.1V2741H1847.7M1882.4 2741H1905.5V2808.1"/>
<path d="M1847.7 2808.1V2724H1882.4V2808.1"/>
<path d="M1823.7 2945.8V2873.5A41.2 41 0 0 1 1906 2873.5V2945.8"/>
<rect x="1859.4" y="2554" width="10.2" height="15.7"/>
<path d="M1833.1 2569.7L1896.1 2569.7"/>
<path d="M1840.2 2570C1840 2592 1836 2602 1825.7 2612.3M1888.7 2570C1889 2592 1893 2602 1903.5 2612.3"/>
<path d="M1820.6 2612.3L1908.8 2612.3"/>
<circle cx="1864.3" cy="2591.9" r="12.2"/>
<path d="M1826.2 2613C1826 2640 1822 2656 1809.8 2671.9M1903 2613C1903.3 2640 1907.5 2656 1919.4 2671.9"/>
<path d="M1834.7 2671.9V2639A12 15.3 0 0 1 1858.7 2639V2671.9"/>
<path d="M1869.4 2671.9V2639A11.9 15.3 0 0 1 1893.2 2639V2671.9"/>
</g>
<text y="219.30" font-size="142.44" font-weight="bold" fill="#000" stroke="#000" stroke-width="13" stroke-linejoin="miter" stroke-miterlimit="2.5" letter-spacing="19"><tspan x="1096.52" textLength="428.08" lengthAdjust="spacingAndGlyphs">BUEB</tspan> <tspan x="1548.99" textLength="482.41" lengthAdjust="spacingAndGlyphs">EXAM</tspan> <tspan x="2048.08" textLength="717.29" lengthAdjust="spacingAndGlyphs">CENTRES</tspan></text>
<rect x="1565" y="310" width="709" height="13" fill="#000"/>
<rect x="105.7" y="482.5" width="1167.5" height="92.6" fill="#000"/>
<text y="553.40" font-size="73.98" font-weight="bold" fill="#fff" stroke="#fff" stroke-width="6" stroke-linejoin="miter" stroke-miterlimit="2.5" letter-spacing="8"><tspan x="133.47" textLength="171.51" lengthAdjust="spacingAndGlyphs">CITY</tspan> <tspan x="328.66" textLength="340.77" lengthAdjust="spacingAndGlyphs">CAMPUS</tspan> <tspan x="686.34" textLength="229.44" lengthAdjust="spacingAndGlyphs">EXAM</tspan> <tspan x="934.39" textLength="310.19" lengthAdjust="spacingAndGlyphs">CENTRE</tspan></text>
<text y="652.15" font-size="67.01" font-weight="normal" fill="#231f20" stroke="#fff" stroke-width="1.5" stroke-linejoin="round" stroke-miterlimit="2.5"><tspan x="502.48" textLength="112.72" lengthAdjust="spacingAndGlyphs">City</tspan> <tspan x="638.28" textLength="235.96" lengthAdjust="spacingAndGlyphs">Campus</tspan></text>
<text y="759.90" font-size="58.00" font-weight="bold" fill="#231f20" stroke="#231f20" stroke-width="0.8" stroke-linejoin="round" stroke-miterlimit="2.5"><tspan x="136.62" textLength="167.62" lengthAdjust="spacingAndGlyphs">(1054</tspan> <tspan x="331.16" textLength="303.63" lengthAdjust="spacingAndGlyphs">Budapest,</tspan> <tspan x="655.02" textLength="322.19" lengthAdjust="spacingAndGlyphs">Alkotmány</tspan> <tspan x="1000.83" textLength="83.82" lengthAdjust="spacingAndGlyphs">St.</tspan> <tspan x="1105.62" textLength="159.07" lengthAdjust="spacingAndGlyphs">9-11.)</tspan></text>
<rect x="366.3" y="1248.5" width="621.7" height="50.6" fill="#f9ed32"/>
<rect x="338.5" y="1341.1" width="699.5" height="50.6" fill="#f9ed32"/>
<text y="1297.30" font-size="83.87" font-weight="bold" fill="#000" stroke="#000" stroke-width="2.2" stroke-linejoin="round" stroke-miterlimit="2.5" letter-spacing="1"><tspan x="385.38" textLength="209.96" lengthAdjust="spacingAndGlyphs">Exam</tspan> <tspan x="618.81" textLength="266.76" lengthAdjust="spacingAndGlyphs">Centre</tspan> <tspan x="905.57" textLength="62.84" lengthAdjust="spacingAndGlyphs">is</tspan></text>
<text y="1389.90" font-size="83.87" font-weight="bold" fill="#000" stroke="#000" stroke-width="2.2" stroke-linejoin="round" stroke-miterlimit="2.5" letter-spacing="1"><tspan x="352.54" textLength="77.68" lengthAdjust="spacingAndGlyphs">in</tspan> <tspan x="449.06" textLength="128.26" lengthAdjust="spacingAndGlyphs">the</tspan> <tspan x="598.90" textLength="419.71" lengthAdjust="spacingAndGlyphs">basement.</tspan></text>
<rect x="2517.3" y="508.6" width="1252.2" height="92.4" fill="#000"/>
<text y="578.30" font-size="70.20" font-weight="bold" fill="#fff" stroke="#fff" stroke-width="6" stroke-linejoin="miter" stroke-miterlimit="2.5" letter-spacing="8"><tspan x="2542.70" textLength="298.55" lengthAdjust="spacingAndGlyphs">ZUGLÓ</tspan> <tspan x="2850.28" textLength="341.09" lengthAdjust="spacingAndGlyphs">CAMPUS</tspan> <tspan x="3203.99" textLength="228.55" lengthAdjust="spacingAndGlyphs">EXAM</tspan> <tspan x="3449.43" textLength="308.40" lengthAdjust="spacingAndGlyphs">CENTRE</tspan></text>
<text y="684.65" font-size="63.66" font-weight="normal" fill="#231f20" stroke="#fff" stroke-width="1.5" stroke-linejoin="round" stroke-miterlimit="2.5"><tspan x="2933.20" textLength="165.50" lengthAdjust="spacingAndGlyphs">Zugló</tspan> <tspan x="3115.67" textLength="237.09" lengthAdjust="spacingAndGlyphs">Campus</tspan></text>
<text y="795.70" font-size="58.29" font-weight="bold" fill="#231f20" stroke="#231f20" stroke-width="0.8" stroke-linejoin="round" stroke-miterlimit="2.5"><tspan x="2581.17" textLength="156.73" lengthAdjust="spacingAndGlyphs">(1149</tspan> <tspan x="2765.23" textLength="305.89" lengthAdjust="spacingAndGlyphs">Budapest,</tspan> <tspan x="3084.17" textLength="328.01" lengthAdjust="spacingAndGlyphs">Buzogány</tspan> <tspan x="3436.20" textLength="85.23" lengthAdjust="spacingAndGlyphs">St.</tspan> <tspan x="3544.54" textLength="176.75" lengthAdjust="spacingAndGlyphs">10–12.)</tspan></text>
<rect x="2827.8" y="1260.7" width="636.2" height="45.1" fill="#f9ed32"/>
<rect x="2789.9" y="1355.7" width="706.6" height="45.1" fill="#f9ed32"/>
<text y="1306.50" font-size="82.27" font-weight="bold" fill="#000" stroke="#000" stroke-width="2.2" stroke-linejoin="round" stroke-miterlimit="2.5" letter-spacing="1"><tspan x="2856.21" textLength="209.02" lengthAdjust="spacingAndGlyphs">Exam</tspan> <tspan x="3089.22" textLength="265.44" lengthAdjust="spacingAndGlyphs">Centre</tspan> <tspan x="3376.39" textLength="61.46" lengthAdjust="spacingAndGlyphs">is</tspan></text>
<text y="1398.60" font-size="82.27" font-weight="bold" fill="#000" stroke="#000" stroke-width="2.2" stroke-linejoin="round" stroke-miterlimit="2.5" letter-spacing="1"><tspan x="2822.32" textLength="75.45" lengthAdjust="spacingAndGlyphs">in</tspan> <tspan x="2917.38" textLength="125.99" lengthAdjust="spacingAndGlyphs">the</tspan> <tspan x="3065.40" textLength="419.83" lengthAdjust="spacingAndGlyphs">basement.</tspan></text>
<rect x="1274.6" y="2240.8" width="1179.7" height="93.4" fill="#000"/>
<text y="2312.40" font-size="71.80" font-weight="bold" fill="#fff" stroke="#fff" stroke-width="6" stroke-linejoin="miter" stroke-miterlimit="2.5" letter-spacing="8"><tspan x="1298.14" textLength="553.93" lengthAdjust="spacingAndGlyphs">JÓZSEFVÁROS</tspan> <tspan x="1873.11" textLength="221.73" lengthAdjust="spacingAndGlyphs">EXAM</tspan> <tspan x="2116.77" textLength="314.11" lengthAdjust="spacingAndGlyphs">CENTRE</tspan></text>
<text y="2424.15" font-size="63.66" font-weight="normal" fill="#231f20" stroke="#fff" stroke-width="1.5" stroke-linejoin="round" stroke-miterlimit="2.5"><tspan x="1500.00" textLength="279.49" lengthAdjust="spacingAndGlyphs">Berzsenyi</tspan> <tspan x="1798.95" textLength="177.73" lengthAdjust="spacingAndGlyphs">Street</tspan> <tspan x="1999.25" textLength="230.74" lengthAdjust="spacingAndGlyphs">Campus</tspan></text>
<text y="2514.90" font-size="60.18" font-weight="bold" fill="#231f20" stroke="#231f20" stroke-width="0.8" stroke-linejoin="round" stroke-miterlimit="2.5"><tspan x="1254.10" textLength="163.94" lengthAdjust="spacingAndGlyphs">(1087</tspan> <tspan x="1443.84" textLength="298.17" lengthAdjust="spacingAndGlyphs">Budapest,</tspan> <tspan x="1761.02" textLength="292.39" lengthAdjust="spacingAndGlyphs">Berzsenyi</tspan> <tspan x="2071.22" textLength="199.20" lengthAdjust="spacingAndGlyphs">Dániel</tspan> <tspan x="2288.63" textLength="83.82" lengthAdjust="spacingAndGlyphs">St.</tspan> <tspan x="2393.38" textLength="78.45" lengthAdjust="spacingAndGlyphs">6.)</tspan></text>
<rect x="1538.8" y="3007.7" width="636.5" height="44.6" fill="#f9ed32"/>
<rect x="1397.7" y="3102.4" width="933.6" height="44.9" fill="#f9ed32"/>
<text y="3054.20" font-size="81.54" font-weight="bold" fill="#000" stroke="#000" stroke-width="2.2" stroke-linejoin="round" stroke-miterlimit="2.5" letter-spacing="1"><tspan x="1571.13" textLength="207.97" lengthAdjust="spacingAndGlyphs">Exam</tspan> <tspan x="1803.73" textLength="265.35" lengthAdjust="spacingAndGlyphs">Centre</tspan> <tspan x="2090.56" textLength="61.81" lengthAdjust="spacingAndGlyphs">is</tspan></text>
<text y="3145.80" font-size="81.54" font-weight="bold" fill="#000" stroke="#000" stroke-width="2.2" stroke-linejoin="round" stroke-miterlimit="2.5" letter-spacing="1"><tspan x="1421.15" textLength="74.98" lengthAdjust="spacingAndGlyphs">in</tspan> <tspan x="1515.45" textLength="128.70" lengthAdjust="spacingAndGlyphs">the</tspan> <tspan x="1665.99" textLength="200.79" lengthAdjust="spacingAndGlyphs">inner</tspan> <tspan x="1891.41" textLength="424.57" lengthAdjust="spacingAndGlyphs">courtyard.</tspan></text>
</svg></body></html>
